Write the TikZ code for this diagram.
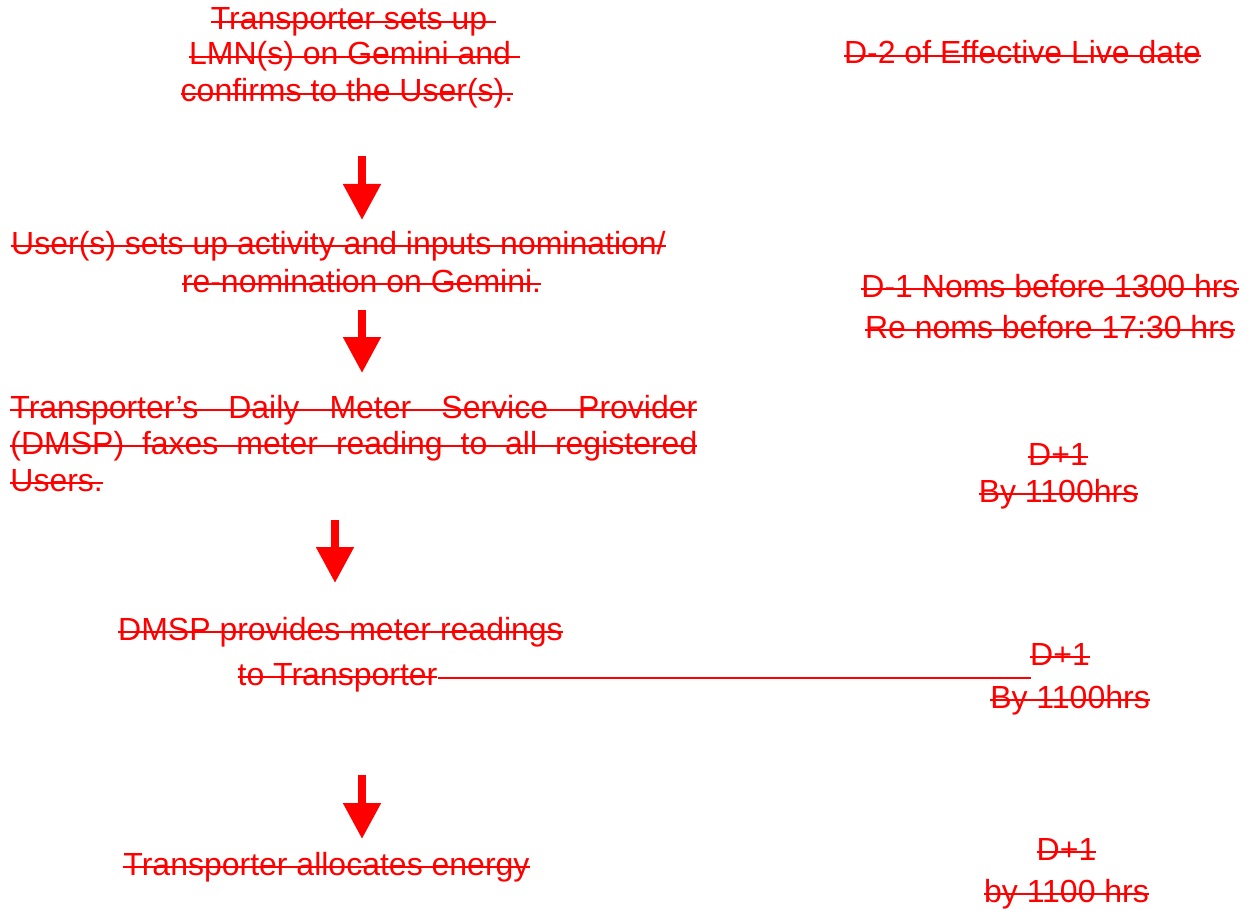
\documentclass[tikz,border=0pt]{standalone}
\usepackage{fontspec}
\setmainfont{Liberation Sans}
\usetikzlibrary{arrows.meta}

\newlength\strklen
\newcommand\strk[1]{\settowidth\strklen{#1}\rlap{\rule[0.23em]{\strklen}{1pt}}#1}

\tikzset{
  deltext/.style={text=red, inner sep=0pt, anchor=base, font=\fontsize{16}{18}\selectfont},
  fatarrow/.style={draw=red, line width=4pt, -{Triangle[width=18pt,length=18pt]}},
  strikeline/.style={draw=red, line width=1pt}
}

\begin{document}
\begin{tikzpicture}[x=0.5pt,y=-0.5pt]
\useasboundingbox (0,0) rectangle (1251,909);

% steps
\node[deltext] (set1) at (349,30) {\strk{Transporter sets up\ }};
\node[deltext] (set2) at (350,65) {\strk{LMN(s) on Gemini and\ }};
\node[deltext] (set3) at (347,102) {\strk{confirms to the User(s).}};

\node[deltext] (nom1) at (338.5,254) {\strk{User(s) sets up activity and inputs nomination/}};
\node[deltext] (nom2) at (361.5,292) {\strk{re-nomination on Gemini.}};

\node[deltext,anchor=base west] (fax1) at (10,418) {\strk{\makebox[343.5pt][s]{Transporter’s Daily Meter Service Provider}}};
\node[deltext,anchor=base west] (fax2) at (10,454) {\strk{\makebox[343.5pt][s]{(DMSP) faxes meter reading to all registered}}};
\node[deltext,anchor=base west] (fax3) at (10,491) {\strk{Users.}};

\node[deltext] (prov1) at (340.5,640) {\strk{DMSP provides meter readings}};
\node[deltext] (prov2) at (337.5,685) {\strk{to Transporter}};

\node[deltext] (alloc) at (326.5,875) {\strk{Transporter allocates energy}};

% timings
\node[deltext] (live) at (1022.5,64) {\strk{D-2 of Effective Live date}};
\node[deltext] (noms1) at (1050,297) {\strk{D-1 Noms before 1300 hrs}};
\node[deltext] (noms2) at (1050,338) {\strk{Re noms before 17:30 hrs}};
\node[deltext] (fax1d) at (1058,465) {\strk{D+1}};
\node[deltext] (fax1t) at (1058.5,502) {\strk{By 1100hrs}};
\node[deltext] (prov1d) at (1060,665) {\strk{D+1}};
\node[deltext] (prov1t) at (1070,708) {\strk{By 1100hrs}};
\node[deltext] (alloc1d) at (1066.5,860) {\strk{D+1}};
\node[deltext] (alloc1t) at (1066.5,902) {\strk{by 1100 hrs}};

% arrows
\coordinate (a1) at (362,156);
\coordinate (b1) at (362,220);
\coordinate (a2) at (362,310);
\coordinate (b2) at (362,373);
\coordinate (a3) at (335,520);
\coordinate (b3) at (335,583);
\coordinate (a4) at (362,775);
\coordinate (b4) at (362,839);

\draw[fatarrow] (a1) -- (b1);
\draw[fatarrow] (a2) -- (b2);
\draw[fatarrow] (a3) -- (b3);
\draw[fatarrow] (a4) -- (b4);

\coordinate (tpend) at (1031,678);
\draw[strikeline] (prov2.east |- tpend) -- (tpend);

\end{tikzpicture}
\end{document}
